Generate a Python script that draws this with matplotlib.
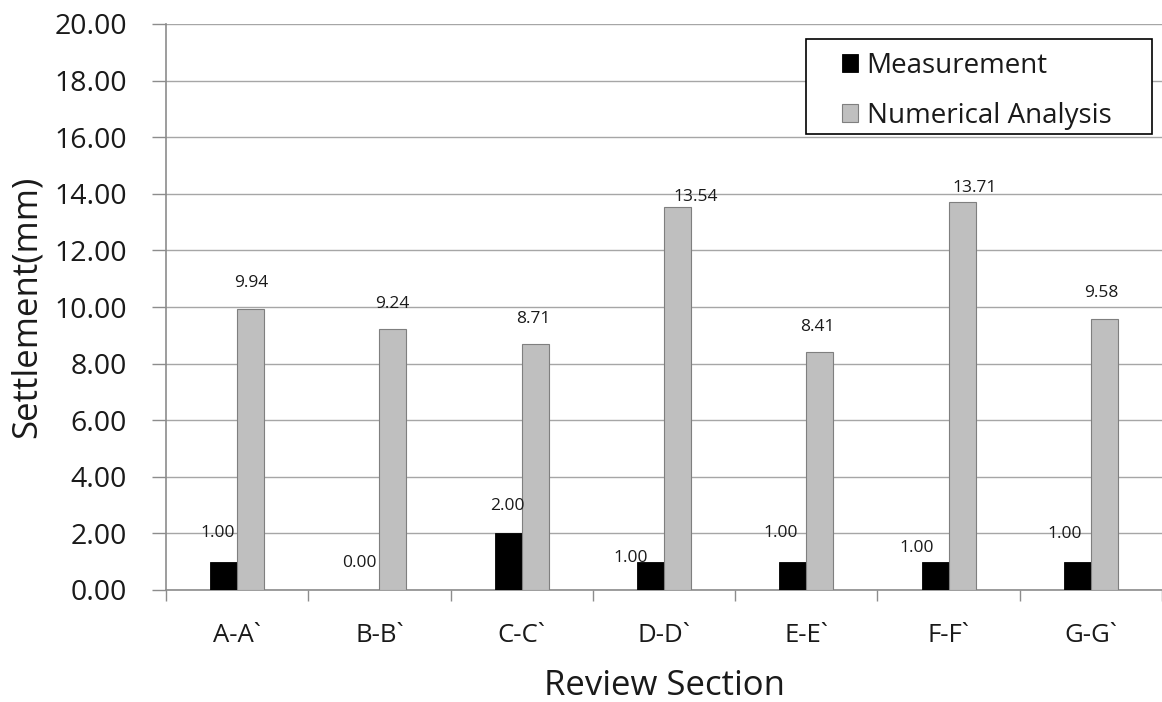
import matplotlib
matplotlib.use("Agg")
import matplotlib.pyplot as plt
from matplotlib.patches import Rectangle
import numpy as np

sections = ["A-A`", "B-B`", "C-C`", "D-D`", "E-E`", "F-F`", "G-G`"]
measurement = [1.00, 0.00, 2.00, 1.00, 1.00, 1.00, 1.00]
numerical = [9.94, 9.24, 8.71, 13.54, 8.41, 13.71, 9.58]

# hand-placed label offsets (pixels) relative to each bar's top centre
meas_offsets = [(-6, 29), (-7, 27), (-1, 27), (-20, 4), (-12, 29), (-18, 14), (-13, 28)]
num_offsets = [(1, 26), (-1, 25), (-2, 25), (18, 10), (-2, 25), (13, 14), (-3, 26)]

plt.rcParams["font.family"] = ["Open Sans", "DejaVu Sans"]
text_color = "#1a1a1a"
axis_gray = "#8c8c8c"

W, H = 1162, 702
fig = plt.figure(figsize=(W / 100, H / 100), dpi=100)
ax = fig.add_axes([166 / W, (702 - 590) / H, (1162 - 166) / W, (590 - 24) / H])

x = np.arange(len(sections))
bw = 0.19
b1 = ax.bar(x - bw / 2, measurement, bw, color="black", edgecolor="black",
            linewidth=0.6, label="Measurement", zorder=3)
b2 = ax.bar(x + bw / 2, numerical, bw, color="#bfbfbf", edgecolor="#7f7f7f",
            linewidth=0.8, label="Numerical Analysis", zorder=3)

for rect, v, off in zip(b1, measurement, meas_offsets):
    ax.annotate(f"{v:.2f}", (rect.get_x() + rect.get_width() / 2, v),
                xytext=off, textcoords="offset pixels", ha="center", va="center",
                fontsize=12.5, color=text_color, zorder=4)
for rect, v, off in zip(b2, numerical, num_offsets):
    ax.annotate(f"{v:.2f}", (rect.get_x() + rect.get_width() / 2, v),
                xytext=off, textcoords="offset pixels", ha="center", va="center",
                fontsize=12.5, color=text_color, zorder=4)

ax.set_ylim(0, 20)
ax.set_xlim(-0.5, -0.5 + (1162 - 166) / 143)
ax.set_yticks(np.arange(0, 20.1, 2))
ax.set_yticklabels([f"{t:.2f}" for t in np.arange(0, 20.1, 2)])
ax.yaxis.grid(True, color="#a6a6a6", linewidth=1.0, zorder=0)
ax.set_axisbelow(True)

ax.set_xticks(x)
ax.set_xticklabels(sections)
ax.set_xticks(np.arange(-0.5, len(sections) + 0.5, 1), minor=True)
ax.tick_params(axis="x", which="major", length=0, pad=24, labelsize=18.5, labelcolor=text_color)
ax.tick_params(axis="x", which="minor", length=8, color=axis_gray, width=1, direction="out")
ax.tick_params(axis="y", length=10, color=axis_gray, width=1, pad=18,
               labelsize=20.5, labelcolor=text_color)

for s in ["top", "right"]:
    ax.spines[s].set_visible(False)
for s in ["left", "bottom"]:
    ax.spines[s].set_color(axis_gray)
    ax.spines[s].set_linewidth(1.2)

ax.set_ylabel("Settlement(mm)", fontsize=25, color=text_color, labelpad=8)
ax.set_xlabel("Review Section", fontsize=25, color=text_color, labelpad=15)

# legend entries without frame; the box is drawn separately with wider side margins
leg = fig.legend(handles=[b1, b2], loc="upper left",
                 bbox_to_anchor=(836 / W, 1 - 46 / H), fontsize=20,
                 frameon=False, handlelength=0.6, handleheight=0.6,
                 handletextpad=0.3, labelspacing=0.8, borderpad=0.2,
                 borderaxespad=0)
for t in leg.get_texts():
    t.set_color(text_color)

fig.patches.append(Rectangle((806 / W, 1 - 134 / H), (1152 - 806) / W, (134 - 39) / H,
                             transform=fig.transFigure, facecolor="white",
                             edgecolor="black", linewidth=1.2, zorder=2))
leg.set_zorder(5)

fig.savefig("out.png", dpi=100)
